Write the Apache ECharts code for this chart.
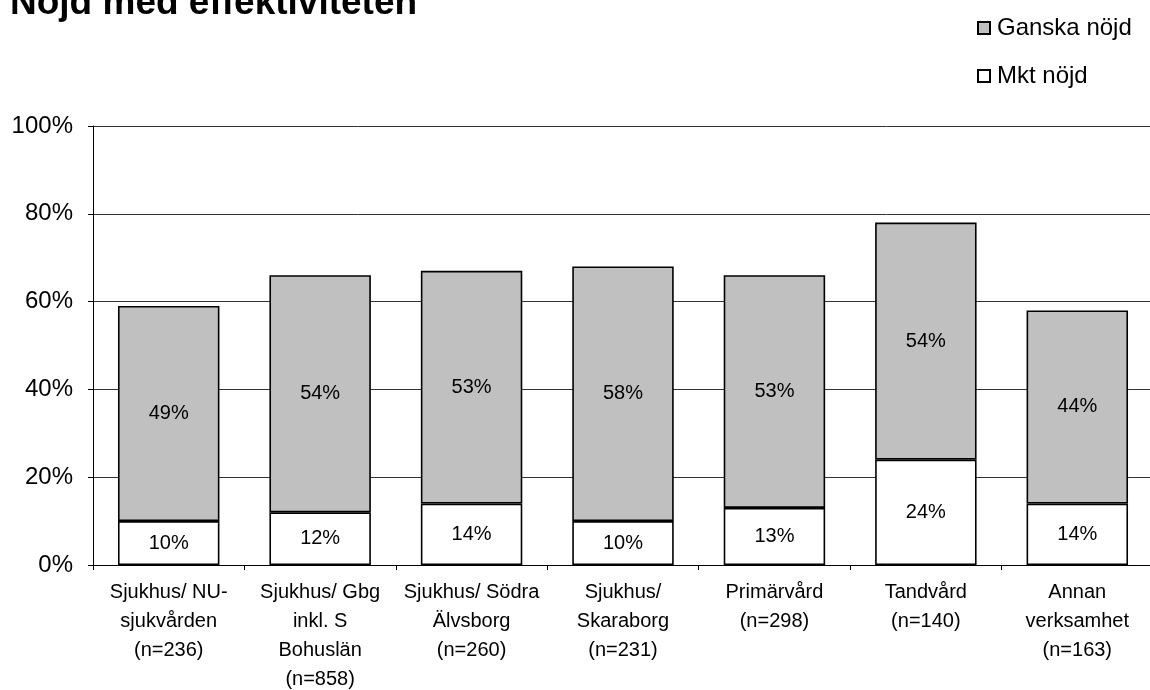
<!DOCTYPE html>
<html>
<head>
<meta charset="utf-8">
<script src="https://cdn.jsdelivr.net/npm/echarts@6/dist/echarts.min.js"></script>
<style>
html,body{margin:0;padding:0;background:#fff;}
#chart{width:1150px;height:690px;}
</style>
</head>
<body>
<div id="chart"></div>
<script>
const titleText = 'Nöjd med effektiviteten';
const categories = [
  'Sjukhus/ NU-\nsjukvården\n(n=236)',
  'Sjukhus/ Gbg\ninkl. S\nBohuslän\n(n=858)',
  'Sjukhus/ Södra\nÄlvsborg\n(n=260)',
  'Sjukhus/\nSkaraborg\n(n=231)',
  'Primärvård\n(n=298)',
  'Tandvård\n(n=140)',
  'Annan\nverksamhet\n(n=163)'
];
const seriesNames = ['Mkt nöjd', 'Ganska nöjd'];
const mktNojd = [10, 12, 14, 10, 13, 24, 14];
const ganskaNojd = [49, 54, 53, 58, 53, 54, 44];
const yTicks = [0, 20, 40, 60, 80, 100];

const FONT = "'Liberation Sans', Arial, sans-serif";
const chart = echarts.init(document.getElementById('chart'), null, {renderer: 'canvas'});

const labelCfg = {
  show: true,
  position: 'inside',
  color: '#000',
  fontSize: 20,
  fontFamily: FONT,
  formatter: p => p.value + '%'
};

chart.setOption({
  animation: false,
  backgroundColor: '#fff',
  textStyle: {fontFamily: FONT},
  title: {
    text: titleText,
    left: 5,
    top: -20,
    textStyle: {fontSize: 37, fontWeight: 'bold', color: '#000', fontFamily: FONT}
  },
  legend: {
    orient: 'vertical',
    left: 972,
    top: 11,
    itemWidth: 12,
    itemHeight: 12,
    itemGap: 24,
    icon: 'rect',
    data: ['Ganska nöjd', 'Mkt nöjd'],
    textStyle: {fontSize: 24, color: '#000', fontFamily: FONT, padding: [0, 0, 0, 2]}
  },
  grid: {
    left: 93,
    right: -3,
    top: 126,
    bottom: 125,
    containLabel: false,
    outerBoundsMode: 'none'
  },
  xAxis: {
    type: 'category',
    data: categories,
    axisLine: {show: true, lineStyle: {color: '#000', width: 1}},
    axisTick: {show: true, length: 5, lineStyle: {color: '#000'}},
    axisLabel: {
      interval: 0,
      fontSize: 20,
      lineHeight: 29,
      color: '#000',
      margin: 13,
      fontFamily: FONT
    },
    splitLine: {show: false}
  },
  yAxis: {
    type: 'value',
    min: yTicks[0],
    max: yTicks[yTicks.length - 1],
    interval: 20,
    axisLine: {show: true, lineStyle: {color: '#000', width: 1}},
    axisTick: {show: true, length: 5, lineStyle: {color: '#000'}},
    axisLabel: {
      formatter: v => v + '%',
      fontSize: 24,
      color: '#000',
      margin: 20,
      fontFamily: FONT
    },
    splitLine: {show: true, lineStyle: {color: '#333', width: 1}}
  },
  series: [
    {
      name: seriesNames[0],
      type: 'bar',
      stack: 'total',
      barWidth: '67%',
      data: mktNojd,
      itemStyle: {color: '#ffffff', borderColor: '#000', borderWidth: 1.6},
      label: labelCfg
    },
    {
      name: seriesNames[1],
      type: 'bar',
      stack: 'total',
      barWidth: '67%',
      data: ganskaNojd,
      itemStyle: {color: '#c0c0c0', borderColor: '#000', borderWidth: 1.6},
      label: labelCfg
    }
  ]
});
</script>
</body>
</html>
